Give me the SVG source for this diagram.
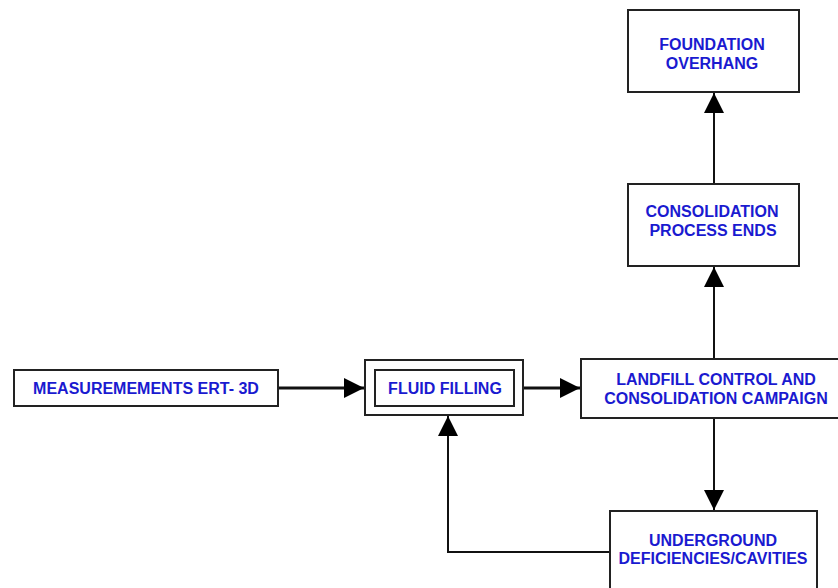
<svg xmlns="http://www.w3.org/2000/svg" width="838" height="588" viewBox="0 0 838 588">
<style>
.box{fill:#fff;stroke:#222;stroke-width:2}
.t{font-family:"Liberation Sans",Arial,sans-serif;font-weight:bold;font-size:16px;fill:#1a1ad0;text-anchor:middle;dominant-baseline:central}
.c{fill:none;stroke:#111;stroke-width:2}
.thick{stroke-width:3}
</style>
<defs>
<marker id="ah" viewBox="0 0 20 20" refX="20" refY="10" markerWidth="20" markerHeight="20" markerUnits="userSpaceOnUse" orient="auto">
<path d="M0,0 L20,10 L0,20 Z" fill="#000"/>
</marker>
</defs>
<rect width="838" height="588" fill="#fff"/>
<g id="connectors">
<line class="c thick" x1="278" y1="388" x2="364" y2="388" marker-end="url(#ah)"/>
<line class="c thick" x1="523" y1="388" x2="580" y2="388" marker-end="url(#ah)"/>
<line class="c" x1="714" y1="359" x2="714" y2="267" marker-end="url(#ah)"/>
<line class="c" x1="714" y1="184" x2="714" y2="93" marker-end="url(#ah)"/>
<line class="c" x1="714" y1="418" x2="714" y2="510" marker-end="url(#ah)"/>
<polyline class="c" points="610,552 448,552 448,416" marker-end="url(#ah)"/>
</g>
<g id="measurements">
<rect class="box" x="14" y="370" width="264" height="36"/>
<text class="t" x="146" y="388">MEASUREMEMENTS ERT- 3D</text>
</g>
<g id="fluid-filling">
<rect class="box" x="365" y="360" width="158" height="55"/>
<rect class="box" x="375" y="370" width="139" height="36" stroke-width="3"/>
<text class="t" x="445" y="388">FLUID FILLING</text>
</g>
<g id="landfill">
<rect class="box" x="581" y="359" width="258" height="59"/>
<text class="t" x="716" y="379">LANDFILL CONTROL AND</text>
<text class="t" x="716" y="398">CONSOLIDATION CAMPAIGN</text>
</g>
<g id="consolidation-ends">
<rect class="box" x="628" y="184" width="171" height="82"/>
<text class="t" x="712" y="211">CONSOLIDATION</text>
<text class="t" x="713" y="230">PROCESS ENDS</text>
</g>
<g id="foundation">
<rect class="box" x="628" y="10" width="171" height="82"/>
<text class="t" x="712" y="44">FOUNDATION</text>
<text class="t" x="712" y="63">OVERHANG</text>
</g>
<g id="underground">
<rect class="box" x="610" y="511" width="207" height="90"/>
<text class="t" x="713" y="540">UNDERGROUND</text>
<text class="t" x="713" y="558">DEFICIENCIES/CAVITIES</text>
</g>
</svg>
